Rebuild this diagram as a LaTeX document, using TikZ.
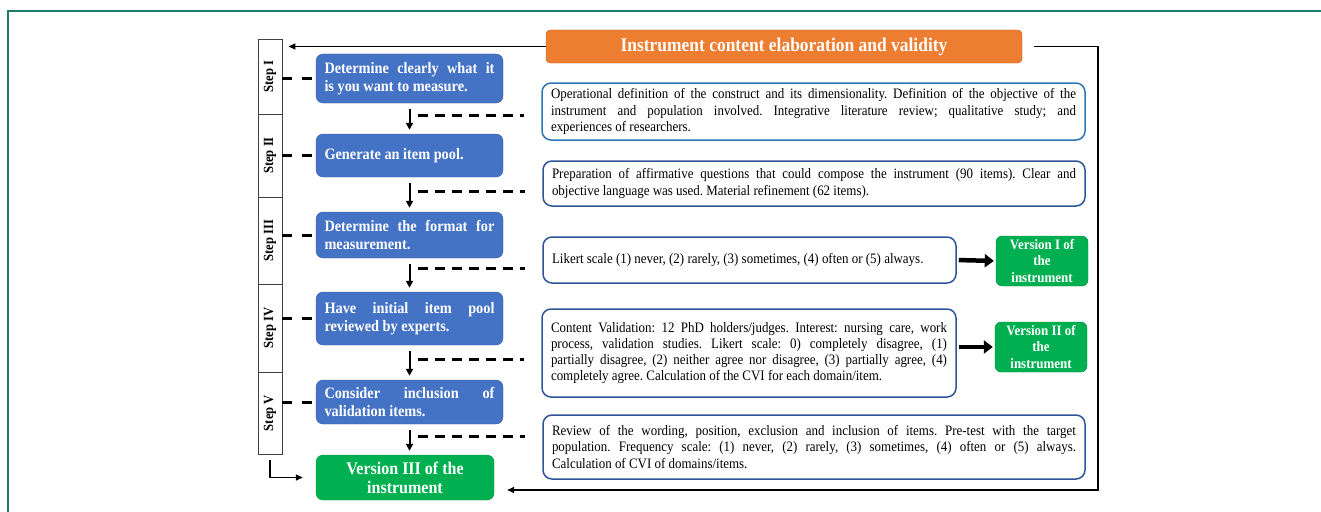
\documentclass[tikz,border=0pt]{standalone}
\usepackage{graphicx}
\usepackage{fontspec}
\setmainfont{Liberation Serif}[FakeStretch=0.9]
\usetikzlibrary{arrows.meta,positioning,calc}
\definecolor{Task}{HTML}{4472C4}
\definecolor{Ver}{HTML}{00B050}
\definecolor{Head}{HTML}{ED7D31}
\definecolor{HeadEdge}{HTML}{B8642A}
\definecolor{NoteEdge}{HTML}{2F5597}
\definecolor{KeyEdge}{HTML}{2E75B6}
\definecolor{Frame}{HTML}{1F7B6B}
\hyphenpenalty=10000
\frenchspacing
\tikzset{
  stepbox/.style={draw=black!75,fill=white,line width=.8pt,minimum width=24pt,inner sep=0pt,font=\fontsize{14}{16}\selectfont\bfseries},
  task/.style={draw=Task!85!black,fill=Task,rounded corners=7pt,text=white,inner xsep=8.5pt,inner ysep=0pt,font=\fontsize{15.9}{17.7}\selectfont\bfseries},
  ver/.style={draw=Ver!80!black,fill=Ver,rounded corners=6pt,text=white,inner sep=0pt,align=center,font=\fontsize{14.4}{16.7}\selectfont\bfseries},
  head/.style={draw=HeadEdge,fill=Head,rounded corners=4pt,text=white,minimum width=476pt,minimum height=33pt,inner sep=0pt,font=\fontsize{19.4}{21}\selectfont\bfseries},
  note/.style={draw=NoteEdge,fill=white,line width=1.5pt,rounded corners=9pt,inner xsep=9pt,inner ysep=0pt,font=\fontsize{14.4}{16.2}\selectfont},
  flow/.style={-{Triangle[length=7pt,width=7pt]},line width=2pt,shorten <=6pt,shorten >=4pt},
  link/.style={dash pattern=on 10pt off 7pt,line width=3pt},
  tie/.style={dash pattern=on 10pt off 10pt,line width=3pt},
  push/.style={-{Triangle[length=9pt,width=13pt]},line width=4.5pt,shorten <=2pt,shorten >=2pt},
  back/.style={-{Triangle[length=7pt,width=6pt]},line width=1.4pt},
}
\begin{document}
\begin{tikzpicture}[x=1pt,y=-1pt]
    \useasboundingbox (0,0) rectangle (1321,511);
    \draw[Frame,line width=1.5pt] (1330,11) -- (8,11) -- (8,520);
    \node[head] (top) at (784,46.5) {Instrument content elaboration and validity};

    \node[stepbox,minimum height=75pt] (s1) at (270,76.5) {\rotatebox{90}{Step I}};
    \node[stepbox,minimum height=83pt] (s2) at (270,155.5) {\rotatebox{90}{Step II}};
    \node[stepbox,minimum height=87pt] (s3) at (270,240.5) {\rotatebox{90}{Step III}};
    \node[stepbox,minimum height=88pt] (s4) at (270,328) {\rotatebox{90}{Step IV}};
    \node[stepbox,minimum height=82pt] (s5) at (270,413) {\rotatebox{90}{Step V}};

    \node[task,minimum height=49pt] (b1) at (409.5,78.5) {\parbox{170pt}{Determine clearly what it\linebreak is you want to measure.}};
    \node[task,minimum height=43pt] (b2) at (409.5,155.5) {\parbox{170pt}{Generate an item pool.}};
    \node[task,minimum height=46pt] (b3) at (409.5,235) {\parbox{170pt}{Determine the format for\linebreak measurement.}};
    \node[task,minimum height=53pt] (b4) at (409.5,318.5) {\parbox{170pt}{Have initial item pool\linebreak reviewed by experts.}};
    \node[task,minimum height=44pt] (b5) at (409.5,402) {\parbox{170pt}{Consider inclusion of\linebreak validation items.}};
    \node[ver,draw=Ver!85!black,rounded corners=7pt,minimum width=178pt,minimum height=45pt,font=\fontsize{17.8}{19}\selectfont\bfseries] (v3) at (405,477.5) {Version III of the\\instrument};

    \node[note,draw=KeyEdge,minimum height=57pt] (d1) at (813.5,111.5) {\parbox{525pt}{Operational definition of the construct and its dimensionality. Definition of the objective of the\linebreak instrument and population involved. Integrative literature review; qualitative study; and\linebreak experiences of researchers.}};
    \node[note,minimum height=45pt] (d2) at (814,183.5) {\parbox{524pt}{Preparation of affirmative questions that could compose the instrument (90 items). Clear and\linebreak objective language was used. Material refinement (62 items).}};
    \node[note,minimum height=46pt] (d3) at (749.5,260) {\parbox{395pt}{Likert scale (1) never, (2) rarely, (3) sometimes, (4) often or (5) always.}};
    \node[note,minimum height=88pt] (d4) at (749,353) {\parbox{396pt}{Content Validation: 12 PhD holders/judges. Interest: nursing care, work\linebreak process, validation studies. Likert scale: 0) completely disagree, (1)\linebreak partially disagree, (2) neither agree nor disagree, (3) partially agree, (4)\linebreak completely agree. Calculation of the CVI for each domain/item.}};
    \node[note,minimum height=64pt] (d5) at (814,447) {\parbox{524pt}{Review of the wording, position, exclusion and inclusion of items. Pre-test with the target\linebreak population. Frequency scale: (1) never, (2) rarely, (3) sometimes, (4) often or (5) always.\linebreak Calculation of CVI of domains/items.}};

    \node[ver,minimum width=92pt,minimum height=50pt] (v1) at (1042,261) {Version I of\\the\\instrument};
    \node[ver,minimum width=92pt,minimum height=50pt] (v2) at (1041,347) {Version II of\\the\\instrument};

    \draw[flow] (b1.south) -- (b2.north);
    \draw[flow] (b2.south) -- (b3.north);
    \draw[flow] (b3.south) -- (b4.north);
    \draw[flow] (b4.south) -- (b5.north);
    \draw[flow] (b5.south) -- (b5.south |- v3.north);

    \coordinate (m1) at ($(b1.south)!.4!(b2.north)$);
    \coordinate (m2) at ($(b2.south)!.4!(b3.north)$);
    \coordinate (m3) at ($(b3.south)!.3!(b4.north)$);
    \coordinate (m4) at ($(b4.south)!.4!(b5.north)$);
    \coordinate (m5) at ($(b5.south)!.4!(b5.south |- v3.north)$);
    \draw[link] ([xshift=8pt]m1) -- ([xshift=-17pt]m1 -| d1.west);
    \draw[link] ([xshift=8pt]m2) -- ([xshift=-17pt]m2 -| d2.west);
    \draw[link] ([xshift=8pt]m3) -- ([xshift=-17pt]m3 -| d3.west);
    \draw[link] ([xshift=8pt]m4) -- ([xshift=-17pt]m4 -| d4.west);
    \draw[link] ([xshift=8pt]m5) -- ([xshift=-17pt]m5 -| d5.west);

    \draw[tie] (b1.west -| s1.east) -- ([xshift=-2pt]b1.west);
    \draw[tie] (b2.west -| s2.east) -- ([xshift=-2pt]b2.west);
    \draw[tie] (b3.west -| s3.east) -- ([xshift=-2pt]b3.west);
    \draw[tie] (b4.west -| s4.east) -- ([xshift=-2pt]b4.west);
    \draw[tie] (b5.west -| s5.east) -- ([xshift=-2pt]b5.west);

    \draw[push] (d3.east) -- (v1.west);
    \draw[push] (v2.west -| d4.east) -- (v2.west);

    \coordinate (rt) at (1098,490);
    \draw[back,shorten >=6pt] (top.west) -- (top.west -| s1.east);
    \draw[back,shorten <=12pt,shorten >=13pt] (top.east) -- (top.east -| rt) -- (rt) -- (rt -| v3.east);
    \draw[back,shorten >=13pt] ([yshift=-6pt]s5.south) |- (v3.west);
\end{tikzpicture}
\end{document}
